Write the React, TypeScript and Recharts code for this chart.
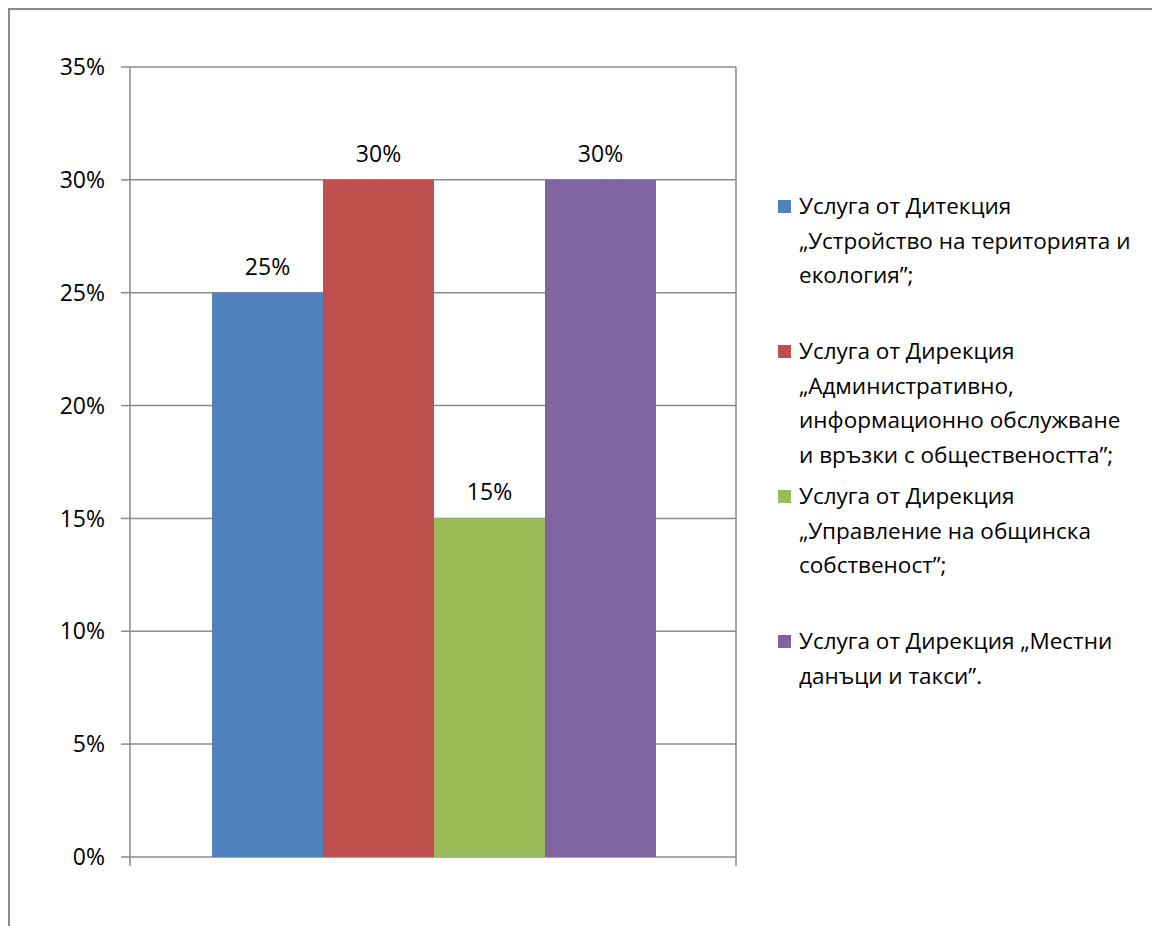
import React from "react";
import {
  BarChart,
  Bar,
  XAxis,
  YAxis,
  CartesianGrid,
  LabelList,
} from "recharts";

// chart values
const categories = ["Услуги"];
const seriesNames = [
  "Услуга от Дитекция „Устройство на територията и екология”;",
  "Услуга от Дирекция „Административно, информационно обслужване и връзки с обществеността”;",
  "Услуга от Дирекция „Управление на общинска собственост”;",
  "Услуга от Дирекция „Местни данъци и такси”.",
];
const seriesValues = [25, 30, 15, 30];
const yTicks = [0, 5, 10, 15, 20, 25, 30, 35];

// legend text broken the way the original wraps it
const legendLines = [
  ["Услуга от Дитекция", "„Устройство на територията и", "екология”;"],
  [
    "Услуга от Дирекция",
    "„Административно,",
    "информационно обслужване",
    "и връзки с обществеността”;",
  ],
  ["Услуга от Дирекция", "„Управление на общинска", "собственост”;"],
  ["Услуга от Дирекция „Местни", "данъци и такси”."],
];

const COLORS = ["#4F81BD", "#C0504D", "#9BBB59", "#8064A2"];
const GRID = "#8a8a8a";
const FONT = "'Open Sans', 'Noto Sans', sans-serif";
const FONT_SIZE = 23;
// a little room below 0% so the axis lines run past the baseline like Excel's tick marks
const Y_DOMAIN = [-0.4, 35];

const data = categories.map((category) => {
  const row: Record<string, string | number> = { category };
  seriesValues.forEach((v, i) => {
    row[`s${i}`] = v;
  });
  return row;
});

const pct = (v: number | string) => `${v}%`;

function ChartLegend() {
  return (
    <div style={{ position: "absolute", left: 768, top: 179 }}>
      {seriesNames.map((name, i) => (
        <div
          key={name}
          title={name}
          style={{ display: "flex", alignItems: "flex-start", height: 145 }}
        >
          <span
            style={{
              width: 13,
              height: 13,
              background: COLORS[i],
              marginTop: 11,
              marginRight: 8,
              flexShrink: 0,
            }}
          />
          <div
            style={{
              fontSize: 22.5,
              lineHeight: "34.5px",
              color: "#000",
            }}
          >
            {legendLines[i].map((line) => (
              <div key={line} style={{ whiteSpace: "nowrap" }}>
                {line}
              </div>
            ))}
          </div>
        </div>
      ))}
    </div>
  );
}

export default function App() {
  return (
    <div
      style={{
        position: "relative",
        width: 1152,
        height: 918,
        boxSizing: "border-box",
        borderTop: `2px solid ${GRID}`,
        borderLeft: `2px solid ${GRID}`,
        fontFamily: FONT,
        background: "#fff",
      }}
    >
      <div style={{ position: "absolute", left: 0, top: 0 }}>
        <BarChart
          width={760}
          height={880}
          data={data}
          margin={{ top: 57, right: 33, left: 0, bottom: 24 }}
          barCategoryGap={82}
          barGap={0}
        >
          <CartesianGrid
            vertical={false}
            horizontalValues={yTicks}
            stroke={GRID}
            strokeWidth={1.5}
          />
          <XAxis dataKey="category" hide />
          <YAxis
            domain={Y_DOMAIN}
            ticks={yTicks}
            interval={0}
            allowDataOverflow
            width={120}
            tickFormatter={pct}
            tickSize={9}
            tickMargin={16}
            tick={{ fill: "#000", fontSize: FONT_SIZE }}
            axisLine={{ stroke: GRID, strokeWidth: 1.5 }}
            tickLine={{ stroke: GRID, strokeWidth: 1.5 }}
          />
          <YAxis
            yAxisId="right"
            orientation="right"
            domain={Y_DOMAIN}
            allowDataOverflow
            width={1}
            tick={false}
            tickLine={false}
            axisLine={{ stroke: GRID, strokeWidth: 1.5 }}
          />
          {seriesNames.map((name, i) => (
            <Bar
              key={name}
              name={name}
              dataKey={`s${i}`}
              fill={COLORS[i]}
              isAnimationActive={false}
            >
              <LabelList
                dataKey={`s${i}`}
                position="top"
                offset={18}
                formatter={pct}
                fill="#000"
                fontSize={FONT_SIZE}
              />
            </Bar>
          ))}
        </BarChart>
      </div>
      <ChartLegend />
    </div>
  );
}
